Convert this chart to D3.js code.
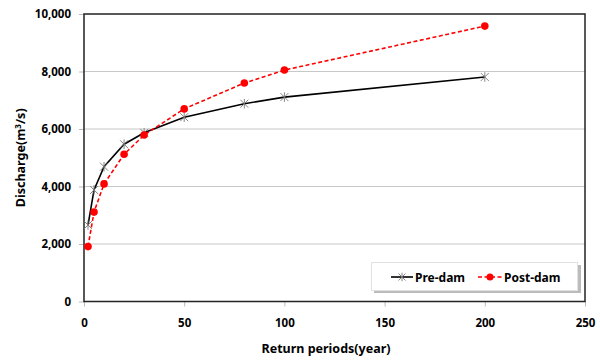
<!DOCTYPE html>
<html>
<head>
<meta charset="utf-8">
<script src="https://cdn.jsdelivr.net/npm/d3@7"></script>
<style>
  body { margin: 0; background: #fff; }
  text { font-family: "Noto Sans", "Open Sans", sans-serif; font-weight: bold; fill: #000; }
</style>
</head>
<body>
<div id="chart"></div>
<script>
const width = 600;
const height = 363;
const margin = { top: 14, right: 15, bottom: 61.5, left: 84 };

// data
const returnPeriods = [2, 5, 10, 20, 30, 50, 80, 100, 200];
const preDam = [2660, 3880, 4690, 5470, 5870, 6410, 6880, 7110, 7810];
const postDam = [1910, 3110, 4090, 5120, 5790, 6700, 7600, 8050, 9580];
const xTicks = [0, 50, 100, 150, 200, 250];
const yTicks = [0, 2000, 4000, 6000, 8000, 10000];

const svg = d3.select("#chart").append("svg")
    .attr("width", width)
    .attr("height", height);

const x = d3.scaleLinear().domain([0, 250]).range([margin.left, width - margin.right]);
const y = d3.scaleLinear().domain([0, 10000]).range([height - margin.bottom, margin.top]);

// gridlines
svg.append("g")
    .selectAll("line")
    .data(yTicks.filter(d => d > 0 && d < 10000))
    .join("line")
    .attr("x1", x(0))
    .attr("x2", x(250))
    .attr("y1", d => y(d))
    .attr("y2", d => y(d))
    .attr("stroke", "#c8c8c8")
    .attr("stroke-width", 1);

// axes
const fmt = d3.format(",");
const yAxis = svg.append("g")
    .attr("transform", `translate(${x(0)},0)`)
    .call(d3.axisLeft(y).tickValues(yTicks).tickFormat(fmt).tickSize(5).tickPadding(4));
const xAxis = svg.append("g")
    .attr("transform", `translate(0,${y(0)})`)
    .call(d3.axisBottom(x).tickValues(xTicks).tickSize(5).tickPadding(12));

[xAxis, yAxis].forEach(g => {
    g.select(".domain").remove();
    g.selectAll(".tick line").attr("stroke", "#bbb");
    g.selectAll("text").style("font-size", "11.5px").attr("font-weight", "bold");
});
yAxis.selectAll(".tick text").attr("dx", "-4");

// plot frame
svg.append("rect")
    .attr("x", x(0))
    .attr("y", y(10000))
    .attr("width", x(250) - x(0))
    .attr("height", y(0) - y(10000))
    .attr("fill", "none")
    .attr("stroke", "#222")
    .attr("stroke-width", 1.5);

// lines
const line = d3.line()
    .x((d, i) => x(returnPeriods[i]))
    .y(d => y(d));

svg.append("path")
    .datum(preDam)
    .attr("d", line)
    .attr("fill", "none")
    .attr("stroke", "#000")
    .attr("stroke-width", 1.6);

svg.append("path")
    .datum(postDam)
    .attr("d", line)
    .attr("fill", "none")
    .attr("stroke", "#ff0000")
    .attr("stroke-width", 1.6)
    .attr("stroke-dasharray", "4,2.5");

// asterisk markers
function star(g, cx, cy, s) {
    const grp = g.append("g").attr("transform", `translate(${cx},${cy})`)
        .attr("stroke", "#777").attr("stroke-width", 0.9);
    grp.append("line").attr("x1", -s).attr("x2", s).attr("y1", -s).attr("y2", s);
    grp.append("line").attr("x1", -s).attr("x2", s).attr("y1", s).attr("y2", -s);
    grp.append("line").attr("x1", 0).attr("x2", 0).attr("y1", -s * 1.2).attr("y2", s * 1.2);
}

const stars = svg.append("g");
preDam.forEach((d, i) => star(stars, x(returnPeriods[i]), y(d), 4));

svg.append("g")
    .selectAll("circle")
    .data(postDam)
    .join("circle")
    .attr("cx", (d, i) => x(returnPeriods[i]))
    .attr("cy", d => y(d))
    .attr("r", 3.8)
    .attr("fill", "#ff0000");

// axis titles
svg.append("text")
    .attr("x", 326)
    .attr("y", 353)
    .attr("text-anchor", "middle")
    .style("font-size", "12.5px")
    .text("Return periods(year)");

const yTitle = svg.append("text")
    .attr("transform", `translate(25,${(y(0) + y(10000)) / 2}) rotate(-90)`)
    .attr("text-anchor", "middle")
    .style("font-size", "12.5px");
yTitle.append("tspan").text("Discharge(m");
yTitle.append("tspan").attr("dy", "-4").style("font-size", "8px").text("3");
yTitle.append("tspan").attr("dy", "4").text("/s)");

// legend
const legend = svg.append("g");
legend.append("rect")
    .attr("x", 374).attr("y", 265)
    .attr("width", 207).attr("height", 28)
    .attr("fill", "#bbb");
legend.append("rect")
    .attr("x", 371.5).attr("y", 262.5)
    .attr("width", 206).attr("height", 28)
    .attr("fill", "#fff")
    .attr("stroke", "#e2e2e2");

legend.append("line")
    .attr("x1", 391).attr("x2", 413).attr("y1", 277).attr("y2", 277)
    .attr("stroke", "#000").attr("stroke-width", 1.6);
star(legend, 402, 277, 3.5);
legend.append("text").attr("x", 415).attr("y", 281.5)
    .style("font-size", "12px").text("Pre-dam");

legend.append("line")
    .attr("x1", 478).attr("x2", 502).attr("y1", 277).attr("y2", 277)
    .attr("stroke", "#ff0000").attr("stroke-width", 1.6)
    .attr("stroke-dasharray", "4,2.5");
legend.append("circle").attr("cx", 490).attr("cy", 277).attr("r", 3.5).attr("fill", "#ff0000");
legend.append("text").attr("x", 504).attr("y", 281.5)
    .style("font-size", "12px").text("Post-dam");
</script>
</body>
</html>
